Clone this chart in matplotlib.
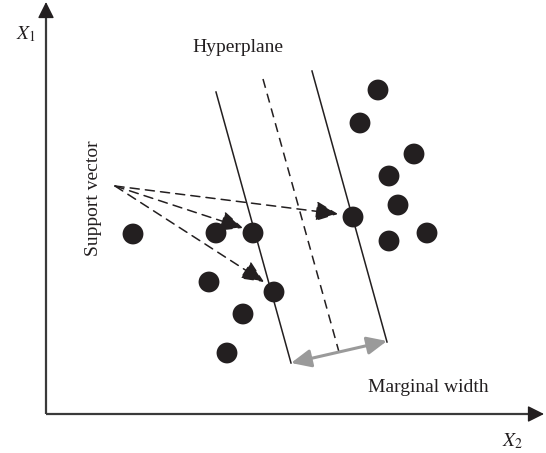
import matplotlib
matplotlib.use("Agg")
import matplotlib.pyplot as plt

# ---- data (pixel-space coordinates of the schematic) ----
dot_x = [133, 216, 253, 209, 274, 243, 227, 378, 360, 414, 389, 398, 353, 389, 427]
dot_y = [234, 233, 233, 282, 292, 314, 353, 90, 123, 154, 176, 205, 217, 241, 233]

margin_left_x = [216, 291]
margin_left_y = [92, 363]
hyper_x = [263, 339]
hyper_y = [79, 352]
margin_right_x = [312, 387]
margin_right_y = [71, 342]

sv_origin = (115, 186)
sv_targets_x = [338, 243, 264]
sv_targets_y = [214, 228, 282]

width_x = [291, 387]
width_y = [363, 341]

labels = {"hyper": "Hyperplane", "sv": "Support vector", "mw": "Marginal width"}

W, H = 546, 453
fig = plt.figure(figsize=(W / 100, H / 100), dpi=100)
ax = fig.add_axes([0, 0, 1, 1])
ax.set_xlim(0, W)
ax.set_ylim(H, 0)
ax.axis("off")

serif = ["Liberation Serif", "DejaVu Serif"]
ink = "#231f20"
axis_col = "#3a3a3a"

# axes with arrows
ax.plot([46, 46], [414, 12], color=axis_col, lw=1.6, solid_capstyle="butt")
ax.plot([46, 534], [414, 414], color=axis_col, lw=1.6, solid_capstyle="butt")
ax.annotate("", xy=(46, 2), xytext=(46, 16),
            arrowprops=dict(arrowstyle="-|>,head_length=1.0,head_width=0.5",
                            color=ink, lw=1.0, mutation_scale=10, shrinkA=0, shrinkB=0))
ax.annotate("", xy=(544, 414), xytext=(530, 414),
            arrowprops=dict(arrowstyle="-|>,head_length=1.0,head_width=0.5",
                            color=ink, lw=1.0, mutation_scale=10, shrinkA=0, shrinkB=0))

ax.text(26, 34, r"$X_1$", fontsize=14, ha="center", va="center", color=ink,
        math_fontfamily="stix")
ax.text(513, 441, r"$X_2$", fontsize=14, ha="center", va="center", color=ink,
        math_fontfamily="stix")

# margins and hyperplane
ax.plot(margin_left_x, margin_left_y, color=ink, lw=1.1)
ax.plot(margin_right_x, margin_right_y, color=ink, lw=1.1)
ax.plot(hyper_x, hyper_y, color=ink, lw=1.1, linestyle=(0, (6, 4)))

# data points
ax.scatter(dot_x, dot_y, s=225, color=ink, edgecolors="none", zorder=3)

# support vector arrows
for tx, ty in zip(sv_targets_x, sv_targets_y):
    ax.annotate("", xy=(tx, ty), xytext=sv_origin,
                arrowprops=dict(arrowstyle="-|>,head_length=1.0,head_width=0.45",
                                color=ink, lw=1.1, linestyle=(0, (6, 4)),
                                mutation_scale=14, shrinkA=0, shrinkB=0))

# marginal width arrow
ax.annotate("", xy=(width_x[1], width_y[1]), xytext=(width_x[0], width_y[0]),
            arrowprops=dict(arrowstyle="<|-|>,head_length=1.0,head_width=0.45",
                            color="#9a9a9a", lw=2.2, mutation_scale=12,
                            shrinkA=0, shrinkB=0))

ax.text(238, 48, labels["hyper"], fontsize=14, family=serif, ha="center",
        va="center", color=ink)
ax.text(94, 198, labels["sv"], fontsize=14, family=serif, ha="center",
        va="center", rotation=90, color=ink)
ax.text(428, 387, labels["mw"], fontsize=14, family=serif, ha="center",
        va="center", color=ink)

fig.savefig("out.png", dpi=100)
